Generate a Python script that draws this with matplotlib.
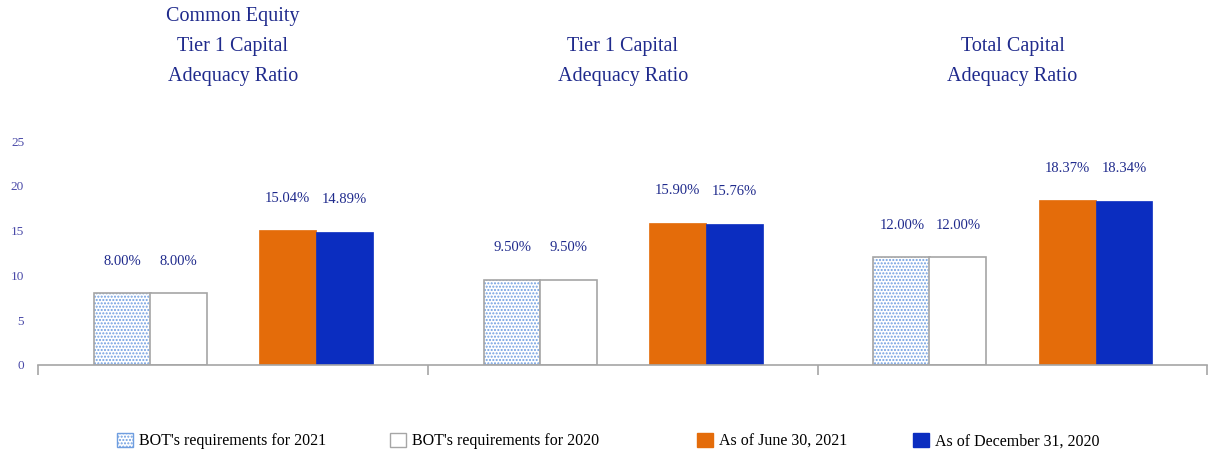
import numpy as np
import matplotlib
matplotlib.use('Agg')
import matplotlib.pyplot as plt
from matplotlib.patches import Patch

# values
categories = ['Common Equity\nTier 1 Capital\nAdequacy Ratio',
              'Tier 1 Capital\nAdequacy Ratio',
              'Total Capital\nAdequacy Ratio']
bot_2021 = [8.00, 9.50, 12.00]
bot_2020 = [8.00, 9.50, 12.00]
jun_2021 = [15.04, 15.90, 18.37]
dec_2020 = [14.89, 15.76, 18.34]
series_names = ["BOT's requirements for 2021", "BOT's requirements for 2020",
                "As of June 30, 2021", "As of December 31, 2020"]
yticks = [0, 5, 10, 15, 20, 25]

plt.rcParams['font.family'] = ['Liberation Serif', 'DejaVu Serif']

ORANGE = '#E46C0A'
BLUE = '#0B2DC0'
EDGE = '#A6A6A6'
DOT = '#6F9EE0'
TXT = '#1F2A8C'

fig = plt.figure(figsize=(12.08, 4.59), dpi=100)
ax = fig.add_axes([0.0315, 0.2048, 0.968, 0.488])

x = np.arange(len(categories))
w = 0.146
offs = [-0.284, -0.14, 0.14, 0.286]

# dotted bars: hatch layer then grey outline
ax.bar(x + offs[0], bot_2021, w, color='white', edgecolor=DOT, hatch='.....', linewidth=0)
ax.bar(x + offs[0], bot_2021, w, fill=False, edgecolor=EDGE, linewidth=1.2)
ax.bar(x + offs[1], bot_2020, w, color='white', edgecolor=EDGE, linewidth=1.2)
ax.bar(x + offs[2], jun_2021, w, color=ORANGE, edgecolor=ORANGE, linewidth=0.5)
ax.bar(x + offs[3], dec_2020, w, color=BLUE, edgecolor=BLUE, linewidth=0.5)

for off, vals in zip(offs, [bot_2021, bot_2020, jun_2021, dec_2020]):
    for xi, v in zip(x, vals):
        ax.annotate('%.2f%%' % v, (xi + off, v), xytext=(0, 23), textcoords='offset points',
                    ha='center', va='center', fontsize=10.5, color=TXT)

for xi, name in zip(x, categories):
    ax.text(xi, 1.245, name, transform=ax.get_xaxis_transform(), ha='center', va='bottom',
            fontsize=14.5, color=TXT, linespacing=1.8)

ax.set_xlim(-0.5, 2.5)
ax.set_ylim(0, 25)
ax.set_yticks(yticks)
ax.set_xticks([-0.5, 0.5, 1.5, 2.5])
ax.set_xticklabels([])
ax.tick_params(axis='x', direction='out', length=7, color=EDGE, width=1.2)
ax.tick_params(axis='y', length=0, labelsize=9.5, labelcolor='#4A4AA8', pad=10)
for s in ['left', 'right', 'top']:
    ax.spines[s].set_visible(False)
ax.spines['bottom'].set_color(EDGE)
ax.spines['bottom'].set_linewidth(1.2)

handles = [Patch(facecolor='white', edgecolor=DOT, hatch='.....'),
           Patch(facecolor='white', edgecolor=EDGE),
           Patch(facecolor=ORANGE, edgecolor=ORANGE),
           Patch(facecolor=BLUE, edgecolor=BLUE)]
# legend entries are not evenly spaced in the original, so one legend per entry
legend_x = [117, 390, 697, 913]
for h, name, lx in zip(handles, series_names, legend_x):
    leg = fig.legend([h], [name], loc='center left', bbox_to_anchor=(lx / 1208, 0.039),
                     frameon=False, fontsize=11.5, handlelength=1.0, handleheight=1.0,
                     handletextpad=0.4, borderpad=0, borderaxespad=0)

fig.savefig('out.png', dpi=100)
